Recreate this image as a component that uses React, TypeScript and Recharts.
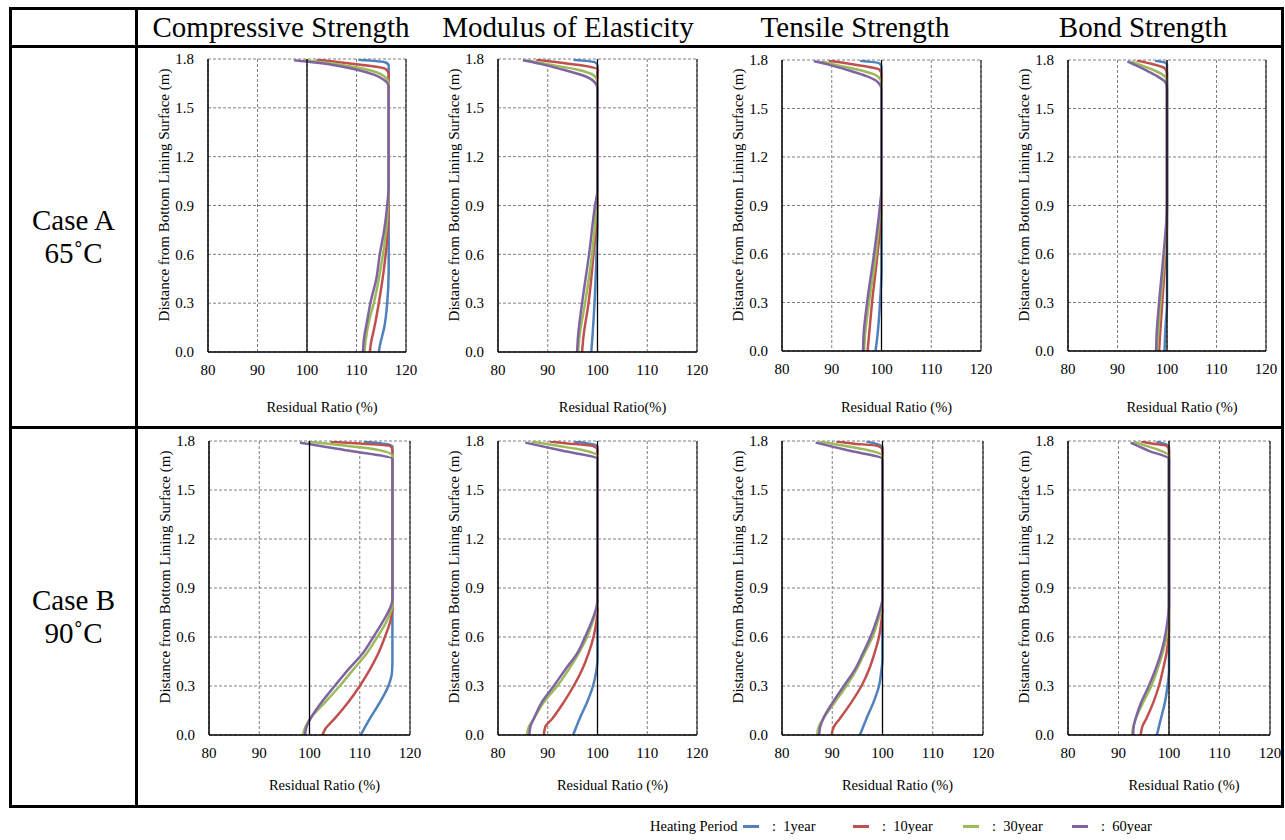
import React from "react";
import { LineChart, Line, XAxis, YAxis, CartesianGrid, ReferenceLine } from "recharts";

// each point: [residual ratio (%), distance from bottom lining surface (m)]
type Pt = [number, number];

const properties = ["Compressive Strength", "Modulus of Elasticity", "Tensile Strength", "Bond Strength"];
const caseNames = ["Case A", "Case B"];
const caseTemps = ["65˚C", "90˚C"];
const periods = ["1year", "10year", "30year", "60year"];
const periodColors = ["#4F81BD", "#C0504D", "#9BBB59", "#8064A2"];
const ratioTicks = [80, 90, 100, 110, 120];
const depthTicks = [0, 0.3, 0.6, 0.9, 1.2, 1.5, 1.8];
const xTitlesA = ["Residual Ratio (%)", "Residual Ratio(%)", "Residual Ratio (%)", "Residual Ratio (%)"];
const xTitlesB = ["Residual Ratio (%)", "Residual Ratio (%)", "Residual Ratio (%)", "Residual Ratio (%)"];

// Case A 65°C
const compA_1: Pt[] = [[114.5, 0], [114.8, 0.05], [115.6, 0.15], [116.2, 0.3], [116.5, 0.5], [116.5, 1.76], [115.8, 1.78], [110.4, 1.795]];
const compA_10: Pt[] = [[112.7, 0], [112.9, 0.05], [113.6, 0.15], [114.5, 0.3], [115.5, 0.5], [116.2, 0.7], [116.5, 0.9], [116.5, 1.71], [115.8, 1.74], [110.8, 1.765], [105.4, 1.785], [101.9, 1.796]];
const compA_30: Pt[] = [[111.6, 0], [111.8, 0.06], [112.6, 0.2], [113.5, 0.3], [114.8, 0.5], [115.8, 0.7], [116.4, 0.9], [116.5, 1.0], [116.5, 1.65], [115.5, 1.695], [112.1, 1.735], [106.7, 1.765], [99.3, 1.792]];
const compA_60: Pt[] = [[111.3, 0], [111.5, 0.08], [112.2, 0.2], [112.8, 0.3], [114.0, 0.45], [114.7, 0.6], [115.6, 0.75], [116.2, 0.9], [116.5, 1.02], [116.5, 1.63], [115.5, 1.673], [113.5, 1.704], [110.1, 1.734], [105, 1.765], [97.4, 1.792]];

const modA_1: Pt[] = [[98.75, 0], [99.0, 0.1], [99.4, 0.3], [99.8, 0.6], [100, 0.8], [100, 1.76], [99.5, 1.78], [95.2, 1.795]];
const modA_10: Pt[] = [[96.9, 0], [97.2, 0.1], [98.2, 0.3], [99.2, 0.6], [100, 0.9], [100, 1.71], [100.1, 1.735], [97, 1.76], [92, 1.78], [87.7, 1.795]];
const modA_30: Pt[] = [[96.1, 0], [96.4, 0.1], [97.5, 0.3], [98.9, 0.6], [99.8, 0.9], [100, 1.0], [100, 1.66], [99.2, 1.7], [95.8, 1.735], [90.5, 1.765], [85.8, 1.792]];
const modA_60: Pt[] = [[95.9, 0], [96.1, 0.1], [96.9, 0.3], [98.3, 0.6], [99.5, 0.9], [100, 1.0], [100, 1.62], [99.2, 1.665], [97, 1.7], [93, 1.735], [88.5, 1.77], [85, 1.792]];

const tenA_1: Pt[] = [[98.8, 0], [99.2, 0.1], [99.7, 0.3], [100, 0.5], [100, 1.76], [99.5, 1.78], [95.7, 1.795]];
const tenA_10: Pt[] = [[97.2, 0], [97.5, 0.1], [98.1, 0.3], [99.2, 0.6], [100, 0.9], [100, 1.71], [99.6, 1.74], [96, 1.765], [92, 1.785], [89.4, 1.796]];
const tenA_30: Pt[] = [[96.5, 0], [96.7, 0.1], [97.5, 0.3], [98.9, 0.6], [99.8, 0.9], [100, 1.0], [100, 1.66], [99.2, 1.7], [96, 1.735], [91.5, 1.765], [87.7, 1.792]];
const tenA_60: Pt[] = [[96.3, 0], [96.4, 0.1], [97.1, 0.3], [98.5, 0.6], [99.7, 0.9], [100, 1.0], [100, 1.62], [99.2, 1.665], [97, 1.7], [93.5, 1.735], [89.5, 1.77], [86.4, 1.792]];

const bondA_1: Pt[] = [[99.5, 0], [99.7, 0.15], [100, 0.3], [100, 1.77], [99.5, 1.785], [97.6, 1.795]];
const bondA_10: Pt[] = [[98.4, 0], [98.6, 0.1], [99.05, 0.3], [99.7, 0.6], [100, 0.8], [100, 1.72], [99.5, 1.75], [97, 1.775], [93.9, 1.796]];
const bondA_30: Pt[] = [[98.0, 0], [98.2, 0.1], [98.7, 0.3], [99.5, 0.6], [100, 0.9], [100, 1.67], [99.5, 1.7], [97.5, 1.735], [95, 1.765], [92.8, 1.792]];
const bondA_60: Pt[] = [[97.8, 0], [97.9, 0.1], [98.4, 0.3], [99.3, 0.6], [100, 0.9], [100, 1.63], [99.6, 1.665], [98, 1.7], [95.5, 1.74], [93.5, 1.77], [92.0, 1.792]];

// Case B 90°C
const compB_1: Pt[] = [[110.2, 0], [112.0, 0.1], [114.0, 0.2], [115.7, 0.3], [116.4, 0.38], [116.5, 0.45], [116.5, 1.765], [115.5, 1.78], [110.8, 1.795]];
const compB_10: Pt[] = [[102.6, 0], [103.2, 0.04], [105.0, 0.1], [107.7, 0.2], [110.0, 0.3], [112.0, 0.4], [113.7, 0.5], [115.0, 0.6], [116.1, 0.7], [116.5, 0.78], [116.5, 1.745], [116, 1.77], [110, 1.785], [104.2, 1.795]];
const compB_30: Pt[] = [[98.7, 0], [99.2, 0.05], [100.1, 0.1], [103.1, 0.2], [106.0, 0.3], [108.7, 0.4], [111.4, 0.5], [113.5, 0.6], [115.4, 0.7], [116.5, 0.8], [116.5, 1.71], [113, 1.75], [106, 1.775], [99.7, 1.797]];
const compB_60: Pt[] = [[99.1, 0], [99.4, 0.05], [100.2, 0.1], [102.4, 0.2], [105.0, 0.3], [107.7, 0.4], [110.6, 0.5], [112.7, 0.6], [114.7, 0.7], [116.3, 0.8], [116.5, 0.83], [116.5, 1.69], [108, 1.74], [98.1, 1.79]];

const modB_1: Pt[] = [[95.1, 0], [96.4, 0.1], [97.9, 0.2], [99.1, 0.3], [99.8, 0.4], [100, 0.46], [100, 1.765], [99, 1.78], [95.3, 1.797]];
const modB_10: Pt[] = [[89.2, 0], [89.5, 0.05], [90.9, 0.1], [93.2, 0.2], [95.2, 0.3], [96.9, 0.4], [98.2, 0.5], [99.2, 0.6], [99.8, 0.7], [100, 0.76], [100, 1.745], [99, 1.77], [94, 1.785], [90.4, 1.797]];
const modB_30: Pt[] = [[85.8, 0], [86.2, 0.05], [87.2, 0.1], [89.2, 0.2], [91.9, 0.3], [94.2, 0.4], [96.2, 0.5], [97.9, 0.6], [99.1, 0.7], [100, 0.8], [100, 1.71], [97, 1.745], [91, 1.775], [86.8, 1.797]];
const modB_60: Pt[] = [[86.3, 0], [86.5, 0.05], [87.2, 0.1], [88.8, 0.2], [91.2, 0.3], [93.5, 0.4], [95.9, 0.5], [97.5, 0.6], [98.9, 0.7], [99.9, 0.8], [100, 0.83], [100, 1.69], [93, 1.74], [85.5, 1.79]];

const tenB_1: Pt[] = [[95.5, 0], [96.8, 0.1], [98.2, 0.2], [99.3, 0.3], [99.8, 0.4], [100, 0.46], [100, 1.765], [99, 1.78], [96.8, 1.797]];
const tenB_10: Pt[] = [[89.9, 0], [90.3, 0.05], [91.5, 0.1], [93.8, 0.2], [95.8, 0.3], [97.3, 0.4], [98.4, 0.5], [99.3, 0.6], [99.8, 0.7], [100, 0.76], [100, 1.745], [99, 1.77], [94, 1.785], [90.8, 1.797]];
const tenB_30: Pt[] = [[87.0, 0], [87.3, 0.05], [88.2, 0.1], [90.5, 0.2], [92.8, 0.3], [94.8, 0.4], [96.4, 0.5], [98.0, 0.6], [99.1, 0.7], [100, 0.8], [100, 1.71], [97, 1.745], [91.5, 1.775], [87.5, 1.797]];
const tenB_60: Pt[] = [[87.4, 0], [87.6, 0.05], [88.2, 0.1], [90.1, 0.2], [92.3, 0.3], [94.5, 0.4], [96.1, 0.5], [97.6, 0.6], [98.8, 0.7], [99.8, 0.8], [100, 0.83], [100, 1.69], [93.5, 1.74], [86.7, 1.79]];

const bondB_1: Pt[] = [[97.6, 0], [98.4, 0.1], [99.2, 0.2], [99.7, 0.3], [100, 0.4], [100, 1.765], [99.3, 1.78], [97.5, 1.797]];
const bondB_10: Pt[] = [[94.4, 0], [94.7, 0.05], [95.5, 0.1], [96.9, 0.2], [98.0, 0.3], [98.8, 0.4], [99.5, 0.5], [99.9, 0.6], [100, 0.65], [100, 1.745], [99.5, 1.77], [96.5, 1.785], [94.5, 1.797]];
const bondB_30: Pt[] = [[92.7, 0], [92.9, 0.05], [93.4, 0.1], [94.9, 0.2], [96.5, 0.3], [97.7, 0.4], [98.7, 0.5], [99.5, 0.6], [99.9, 0.7], [100, 0.75], [100, 1.71], [98, 1.745], [95, 1.775], [92.9, 1.797]];
const bondB_60: Pt[] = [[92.9, 0], [93.0, 0.05], [93.4, 0.1], [94.5, 0.2], [96.0, 0.3], [97.3, 0.4], [98.4, 0.5], [99.2, 0.6], [99.7, 0.7], [100, 0.8], [100, 1.69], [96, 1.74], [92.4, 1.79]];

const caseA = [
  [compA_1, compA_10, compA_30, compA_60],
  [modA_1, modA_10, modA_30, modA_60],
  [tenA_1, tenA_10, tenA_30, tenA_60],
  [bondA_1, bondA_10, bondA_30, bondA_60],
];
const caseB = [
  [compB_1, compB_10, compB_30, compB_60],
  [modB_1, modB_10, modB_30, modB_60],
  [tenB_1, tenB_10, tenB_30, tenB_60],
  [bondB_1, bondB_10, bondB_30, bondB_60],
];

// plot boxes [left, top, width, height] in page pixels
const boxesA = [[208, 59, 198, 293], [498, 59, 199, 293], [782, 60, 199, 291], [1068, 60, 198, 291]];
const boxesB = [[209, 441, 201, 294], [498, 441, 199, 294], [782, 441, 201, 294], [1068, 441, 202, 294]];
const headerX = [281, 568, 855, 1143];

const FONT = '"Liberation Serif", "Times New Roman", serif';

function Panel({ box, series, xTitle, titleY }: any) {
  const [L, T, W, H] = box;
  return (
    <>
      <div style={{ position: "absolute", left: L - 60, top: T - 10 }}>
        <LineChart width={W + 80} height={H + 40} margin={{ top: 10, right: 20, left: 0, bottom: 0 }}>
          <CartesianGrid stroke="#7f7f7f" strokeDasharray="3 2" />
          <XAxis
            type="number"
            dataKey="r"
            domain={[80, 120]}
            ticks={ratioTicks}
            interval={0}
            allowDataOverflow
            height={30}
            tickLine={false}
            tickSize={0}
            tickMargin={12}
            axisLine={{ stroke: "#000", strokeWidth: 1.5 }}
            tick={{ fill: "#000", fontSize: 15 }}
          />
          <YAxis
            type="number"
            domain={[0, 1.8]}
            ticks={depthTicks}
            interval={0}
            allowDataOverflow
            width={60}
            tickLine={false}
            tickSize={0}
            tickMargin={14}
            axisLine={{ stroke: "#000", strokeWidth: 1.5 }}
            tick={{ fill: "#000", fontSize: 15 }}
            tickFormatter={(v: number) => v.toFixed(1)}
          />
          <ReferenceLine x={120} stroke="#000" strokeWidth={1} />
          {series.map((pts: Pt[], i: number) => (
            <Line
              key={periods[i]}
              data={pts.map(([r, d]) => ({ r, d }))}
              dataKey="d"
              type="monotoneY"
              stroke={periodColors[i]}
              strokeWidth={2.5}
              dot={false}
              activeDot={false}
              isAnimationActive={false}
            />
          ))}
          <ReferenceLine x={100} stroke="#000" strokeWidth={1.3} />
        </LineChart>
      </div>
      <div
        style={{
          position: "absolute",
          left: L - 44,
          top: T + H / 2 - 11,
          transform: "translate(-50%, -50%) rotate(-90deg)",
          whiteSpace: "nowrap",
          fontSize: 15,
        }}
      >
        Distance from Bottom Lining Surface (m)
      </div>
      <div
        style={{
          position: "absolute",
          left: L + W / 2 + 15,
          top: titleY,
          transform: "translate(-50%, -50%)",
          whiteSpace: "nowrap",
          fontSize: 14.5,
        }}
      >
        {xTitle}
      </div>
    </>
  );
}

const line = (s: React.CSSProperties) => <div style={{ position: "absolute", background: "#000", ...s }} />;

export default function App() {
  return (
    <div style={{ position: "absolute", left: 0, top: 0, width: 1285, height: 840, background: "#fff", fontFamily: FONT, color: "#000" }}>
      <style>{`.recharts-text, .recharts-cartesian-axis-tick-value { font-family: ${FONT}; }`}</style>
      {/* table frame */}
      <div style={{ position: "absolute", left: 9, top: 7, width: 1275, height: 801, border: "3px solid #000", boxSizing: "border-box" }} />
      {line({ left: 9, top: 45, width: 1275, height: 3 })}
      {line({ left: 9, top: 426, width: 1275, height: 3 })}
      {line({ left: 135, top: 7, width: 3, height: 801 })}

      {properties.map((p, i) => (
        <div key={p} style={{ position: "absolute", left: headerX[i], top: 27, transform: "translate(-50%, -50%)", whiteSpace: "nowrap", fontSize: 29 }}>
          {p}
        </div>
      ))}

      {caseNames.map((c, i) => (
        <div
          key={c}
          style={{ position: "absolute", left: 12, width: 123, top: i === 0 ? 204 : 584, textAlign: "center", fontSize: 29, lineHeight: "33px" }}
        >
          <div>{c}</div>
          <div>{caseTemps[i]}</div>
        </div>
      ))}

      {caseA.map((s, i) => (
        <Panel key={"A" + i} box={boxesA[i]} series={s} xTitle={xTitlesA[i]} titleY={407} />
      ))}
      {caseB.map((s, i) => (
        <Panel key={"B" + i} box={boxesB[i]} series={s} xTitle={xTitlesB[i]} titleY={785} />
      ))}

      {/* legend */}
      <div style={{ position: "absolute", left: 650, top: 826, transform: "translateY(-50%)", fontSize: 14.5, whiteSpace: "nowrap" }}>Heating Period</div>
      {periods.map((p, i) => {
        const x = [743, 853, 963, 1072][i];
        return (
          <React.Fragment key={p}>
            <div style={{ position: "absolute", left: x, top: 825, width: 16, height: 3, background: periodColors[i] }} />
            <div style={{ position: "absolute", left: x + 29, top: 826, transform: "translateY(-50%)", fontSize: 14.5, whiteSpace: "pre" }}>
              {":  " + p}
            </div>
          </React.Fragment>
        );
      })}
    </div>
  );
}
